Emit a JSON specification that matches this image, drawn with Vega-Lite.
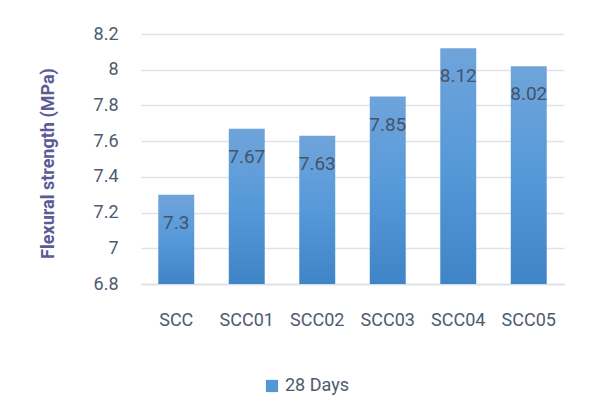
{
  "$schema": "https://vega.github.io/schema/vega-lite/v6.json",
  "width": 423,
  "height": 250,
  "autosize": "none",
  "padding": {"left": 141, "top": 34, "right": 26, "bottom": 132},
  "background": "white",
  "data": {
    "values": [
      {"mix": "SCC", "strength": 7.3, "series": "28 Days"},
      {"mix": "SCC01", "strength": 7.67, "series": "28 Days"},
      {"mix": "SCC02", "strength": 7.63, "series": "28 Days"},
      {"mix": "SCC03", "strength": 7.85, "series": "28 Days"},
      {"mix": "SCC04", "strength": 8.12, "series": "28 Days"},
      {"mix": "SCC05", "strength": 8.02, "series": "28 Days"}
    ]
  },
  "encoding": {
    "x": {
      "field": "mix", "type": "nominal", "sort": null,
      "scale": {"paddingInner": 0.49, "paddingOuter": 0.245},
      "axis": {
        "title": null, "labelAngle": 0, "labelFont": "Roboto", "labelFontSize": 18,
        "labelColor": "#4d5b6f", "labelPadding": 27, "ticks": false,
        "domainColor": "#dcdfe4", "domainWidth": 1.5
      }
    },
    "y": {
      "field": "strength", "type": "quantitative",
      "scale": {"domain": [6.8, 8.2], "zero": false, "nice": false},
      "axis": {
        "values": [6.8, 7.0, 7.2, 7.4, 7.6, 7.8, 8.0, 8.2],
        "format": ".1~f",
        "title": "Flexural strength (MPa)",
        "titleFont": "Roboto", "titleFontSize": 18, "titleFontWeight": "bold",
        "titleColor": "#5b5b96", "titleX": -93, "titleY": 129, "titleBaseline": "middle",
        "labelFont": "Roboto", "labelFontSize": 18, "labelColor": "#4d5b6f",
        "labelPadding": 23, "ticks": false, "domain": false,
        "gridColor": "#dfe2e8", "gridWidth": 1.5
      }
    }
  },
  "layer": [
    {
      "mark": {
        "type": "bar",
        "color": {
          "gradient": "linear", "x1": 0, "y1": 0, "x2": 0, "y2": 1,
          "stops": [
            {"offset": 0, "color": "#6fa4db"},
            {"offset": 0.5, "color": "#5699d9"},
            {"offset": 1, "color": "#3f84c6"}
          ]
        }
      },
      "encoding": {"y2": {"datum": 6.8}}
    },
    {
      "mark": {"type": "point", "shape": "square", "filled": true, "opacity": 0},
      "encoding": {
        "fill": {
          "field": "series", "type": "nominal",
          "scale": {"range": ["#5596d6"]},
          "legend": {
            "title": null, "orient": "none", "legendX": 122, "legendY": 343,
            "symbolType": "square", "symbolSize": 150, "symbolStrokeWidth": 0,
            "symbolOpacity": 1,
            "labelFont": "Roboto", "labelFontSize": 18, "labelColor": "#4d5b6f",
            "labelOffset": 4
          }
        }
      }
    },
    {
      "mark": {
        "type": "text", "font": "Roboto", "fontSize": 19, "color": "#44546a",
        "baseline": "middle", "dy": 28
      },
      "encoding": {
        "text": {"field": "strength", "type": "quantitative", "format": "~g"}
      }
    }
  ],
  "config": {"view": {"stroke": null}}
}
